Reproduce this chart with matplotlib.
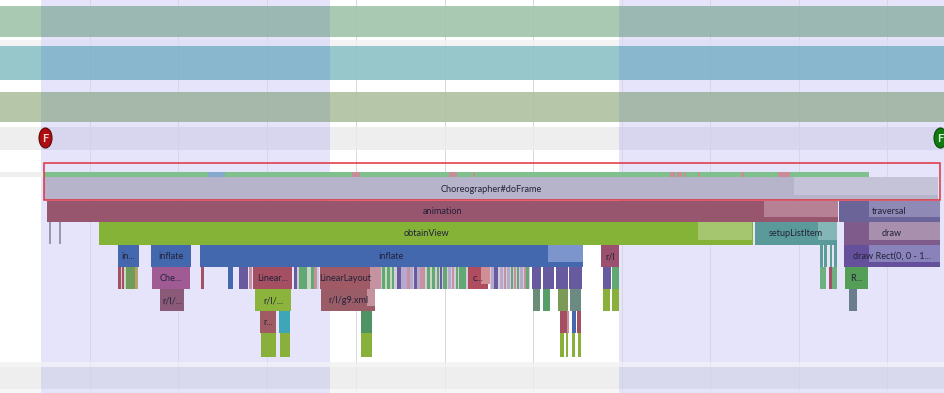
import matplotlib
matplotlib.use("Agg")
import matplotlib.pyplot as plt
from matplotlib.patches import Ellipse, Rectangle

WIDTH, HEIGHT = 944, 393

# palette
RED = "#a44f62"
PINK = "#c4939f"
GREEN = "#62a873"
PALE = "#c3d8bf"
PURPLE = "#675a9f"
LILAC = "#b5a9d0"
BLUE = "#4468ae"
OLIVE = "#88b03a"
WINE = "#9a5c66"
SLATE = "#6b7d8c"

# time selection and grid
selections = [(41, 330), (619, 944)]
grid_x = [90, 178, 267, 356, 445, 533, 622, 710, 799, 887]

# swimlanes: top, bottom, plain colour, selected colour
band_tops = [6, 40, 46, 92, 127, 362, 367, 389]
band_bottoms = [37, 46, 80, 122, 150, 367, 389, 393]
band_plain = ["#a9c9b2", "#f3f3f3", "#97c7cb", "#b5c6a9", "#eeeeee", "#f4f4f4", "#eeeeee", "#f6f6f6"]
band_selected = ["#9bb9b2", "#dfdff6", "#88b7ce", "#a6b8aa", "#d8d5ee", "#eeeef8", "#d9d9ee", "#e5e4fb"]

# thin state strip above doFrame
strip_starts = [44, 208, 352, 449, 473, 670, 677, 684, 698, 741, 778]
strip_ends = [869, 225, 360, 457, 475, 675, 682, 686, 700, 744, 790]
strip_colors = ["#7fc08c", "#86a8cc"] + ["#c98d9a"] * 9

# labelled slices: start, end, colour, label
depth_frame = [(44, 938, "#b6b4ca", "Choreographer#doFrame")]
depth_anim = [(47, 838, "#97566d", "animation"), (839, 940, "#6a6499", "traversal")]
depth_view = [(99, 753, "#84b338", "obtainView"), (755, 837, "#5b9a9a", "setupListItem"),
              (844, 940, "#7f5b8c", "draw")]
depth_inflate = [(118, 139, BLUE, "in..."), (151, 191, BLUE, "inflate"), (200, 583, BLUE, "inflate"),
                 (601, 619, "#9a506e", "r/l"), (844, 940, "#65509b", "draw Rect(0, 0 - 1...")]

# pale "self time" overlays: start, end, top, bottom, colour
overlay_x0 = [764, 869, 698, 818, 869, 869, 548, 794]
overlay_x1 = [838, 940, 752, 837, 940, 940, 583, 938]
overlay_y0 = [201, 201, 222, 222, 222, 245, 245, 177]
overlay_y1 = [217, 217, 240, 240, 240, 262, 262, 195]
overlay_colors = ["#b78195", "#8e8ab5", "#a5c66f", "#84b5b7", "#a88fae", "#8a83bb", "#7c96cd", "#c5c3d8"]

# pale backing behind the densest strips
backing_x0 = [118, 294, 381, 490]
backing_x1 = [138, 319, 468, 530]

# row under inflate
depth_4 = [
    (118, 121, RED, ""), (122, 124, RED, ""), (124, 126, PALE, ""), (126, 135, "#6f9c5a", ""), (135, 138, "#b7a06a", ""),
    (152, 190, "#a05a94", "Che..."), (201, 204, RED, ""), (228, 233, BLUE, ""), (239, 248, PURPLE, ""),
    (249, 252, PINK, ""), (253, 292, RED, "Linear..."), (294, 297, PURPLE, ""), (299, 307, GREEN, ""),
    (308, 311, PALE, ""), (311, 314, GREEN, ""), (314, 317, PINK, ""), (320, 370, "#a05a66", "LinearLayout"),
    (370, 381, PINK, ""), (382, 385, GREEN, ""), (385, 387, PALE, ""), (387, 390, GREEN, ""), (390, 392, PALE, ""),
    (392, 394, GREEN, ""), (397, 401, PURPLE, ""), (401, 407, LILAC, ""), (407, 410, PINK, ""), (410, 413, LILAC, ""),
    (414, 417, PURPLE, ""), (417, 420, LILAC, ""), (420, 425, PINK, ""), (427, 430, GREEN, ""), (430, 432, PALE, ""),
    (432, 435, GREEN, ""), (437, 439, GREEN, ""), (440, 442, PURPLE, ""), (443, 447, GREEN, ""), (448, 451, LILAC, ""),
    (452, 454, PINK, ""), (456, 458, GREEN, ""), (459, 466, GREEN, ""), (468, 488, "#b04c60", "c..."),
    (491, 494, LILAC, ""), (494, 498, PURPLE, ""), (500, 503, LILAC, ""), (504, 506, PINK, ""), (507, 510, LILAC, ""),
    (511, 513, GREEN, ""), (514, 516, PINK, ""), (517, 519, GREEN, ""), (520, 523, LILAC, ""), (524, 526, PINK, ""),
    (526, 529, GREEN, ""), (532, 541, PURPLE, ""), (543, 554, PURPLE, ""), (556, 568, PURPLE, ""), (569, 582, PURPLE, ""),
    (603, 611, PURPLE, ""), (612, 619, GREEN, ""), (820, 826, "#6fb080", ""), (829, 832, RED, ""), (832, 837, "#6fb080", ""),
    (845, 868, "#559e58", "R..."),
]
depth_5 = [
    (160, 184, "#8a5a78", "r/l/..."), (255, 291, "#8cb43c", "r/l/..."), (321, 375, WINE, "r/l/g9.xml"),
    (533, 540, "#6b8d78", ""), (543, 550, "#559e68", ""), (558, 568, "#7a9a55", ""), (570, 581, "#6a8a82", ""),
    (603, 610, OLIVE, ""), (612, 619, OLIVE, ""), (849, 857, SLATE, ""),
]
depth_6 = [
    (260, 276, "#a05c62", "r..."), (279, 290, "#3fa6b8", ""), (361, 372, "#4f9364", ""), (560, 567, RED, ""),
    (567, 569, PINK, ""), (572, 576, BLUE, ""), (577, 581, RED, ""),
]
depth_7 = [(261, 276, OLIVE, ""), (280, 290, OLIVE, ""), (361, 372, OLIVE, ""), (560, 564, OLIVE, ""),
           (566, 568, OLIVE, ""), (572, 575, OLIVE, ""), (578, 581, OLIVE, "")]

setup_strips_x0 = [820, 824, 830, 834]
setup_strips_x1 = [823, 827, 832, 837]
tick_strips_x = [49, 59]


def box(ax, x0, x1, y0, y1, color, z=2, **kw):
    ax.add_patch(Rectangle((x0, y0), x1 - x0, y1 - y0, facecolor=color, edgecolor="none", zorder=z, **kw))


def draw_depth(ax, slices, y0, y1):
    for x0, x1, color, label in slices:
        box(ax, x0, x1, y0, y1, color)
        if label:
            ax.text((x0 + x1) / 2, (y0 + y1) / 2 + 0.5, label, ha="center", va="center", fontsize=6.6,
                    color="#22223a", zorder=6)


fig = plt.figure(figsize=(WIDTH / 100, HEIGHT / 100), dpi=100)
plt.rcParams["font.family"] = ["Lato", "DejaVu Sans"]
ax = fig.add_axes([0, 0, 1, 1])
ax.set_xlim(0, WIDTH)
ax.set_ylim(HEIGHT, 0)
ax.axis("off")

# selection background
for x0, x1 in selections:
    box(ax, x0, x1, 0, 362, "#e5e4fb", z=0)
for gx in grid_x:
    ax.plot([gx, gx], [0, HEIGHT], color="#dcdce4", lw=0.7, zorder=0.5)
    ax.plot([gx, gx], [0, HEIGHT], color="#8a8a9a", lw=0.7, alpha=0.06, zorder=1.5)

for top, bottom, plain, selected in zip(band_tops, band_bottoms, band_plain, band_selected):
    box(ax, 0, WIDTH, top, bottom, plain, z=1)
    for x0, x1 in selections:
        box(ax, x0, x1, top, bottom, selected, z=1.1)

# thread row
box(ax, 0, 44, 172, 177, "#eeeeee", z=1)
for x0, x1, color in zip(strip_starts, strip_ends, strip_colors):
    box(ax, x0, x1, 172, 177, color, z=2.1 if color != "#7fc08c" else 2)

for x0, x1 in zip(backing_x0, backing_x1):
    box(ax, x0, x1, 267, 289, "#d3cbdc", z=1.9)

draw_depth(ax, depth_frame, 177, 200)
draw_depth(ax, depth_anim, 201, 222)
draw_depth(ax, depth_view, 222, 245)
draw_depth(ax, depth_inflate, 245, 267)
draw_depth(ax, depth_4, 267, 289)
draw_depth(ax, depth_5, 289, 311)
draw_depth(ax, depth_6, 311, 333)
draw_depth(ax, depth_7, 333, 357)

for x0, x1, y0, y1, color in zip(overlay_x0, overlay_x1, overlay_y0, overlay_y1, overlay_colors):
    box(ax, x0, x1, y0, y1, color, z=3)
box(ax, 367, 375, 289, 306, PINK, z=3)
box(ax, 481, 490, 267, 284, "#cf8f94", z=3)

for x0, x1 in zip(setup_strips_x0, setup_strips_x1):
    box(ax, x0, x1, 245, 267, "#5e9c96")
for tx in tick_strips_x:
    box(ax, tx, tx + 1.6, 222, 244, "#9a96b0")

# frame markers
ax.add_patch(Ellipse((45.5, 138), 13, 20, facecolor="#b00c10", edgecolor="#5a0808", lw=0.8, zorder=7))
ax.text(45.5, 138.5, "F", ha="center", va="center", fontsize=8, fontweight="bold", color="#f4d8d0", zorder=8)
ax.add_patch(Ellipse((940.5, 138), 13, 20, facecolor="#0e7a10", edgecolor="#064a06", lw=0.8, zorder=7))
ax.text(940.5, 138.5, "F", ha="center", va="center", fontsize=8, fontweight="bold", color="#d8f0d0", zorder=8)

# highlight frame around doFrame
ax.add_patch(Rectangle((43.5, 163), 896.5, 37, fill=False, edgecolor="#e0303e", lw=1.1, zorder=9))

fig.savefig("out.png", dpi=100)
